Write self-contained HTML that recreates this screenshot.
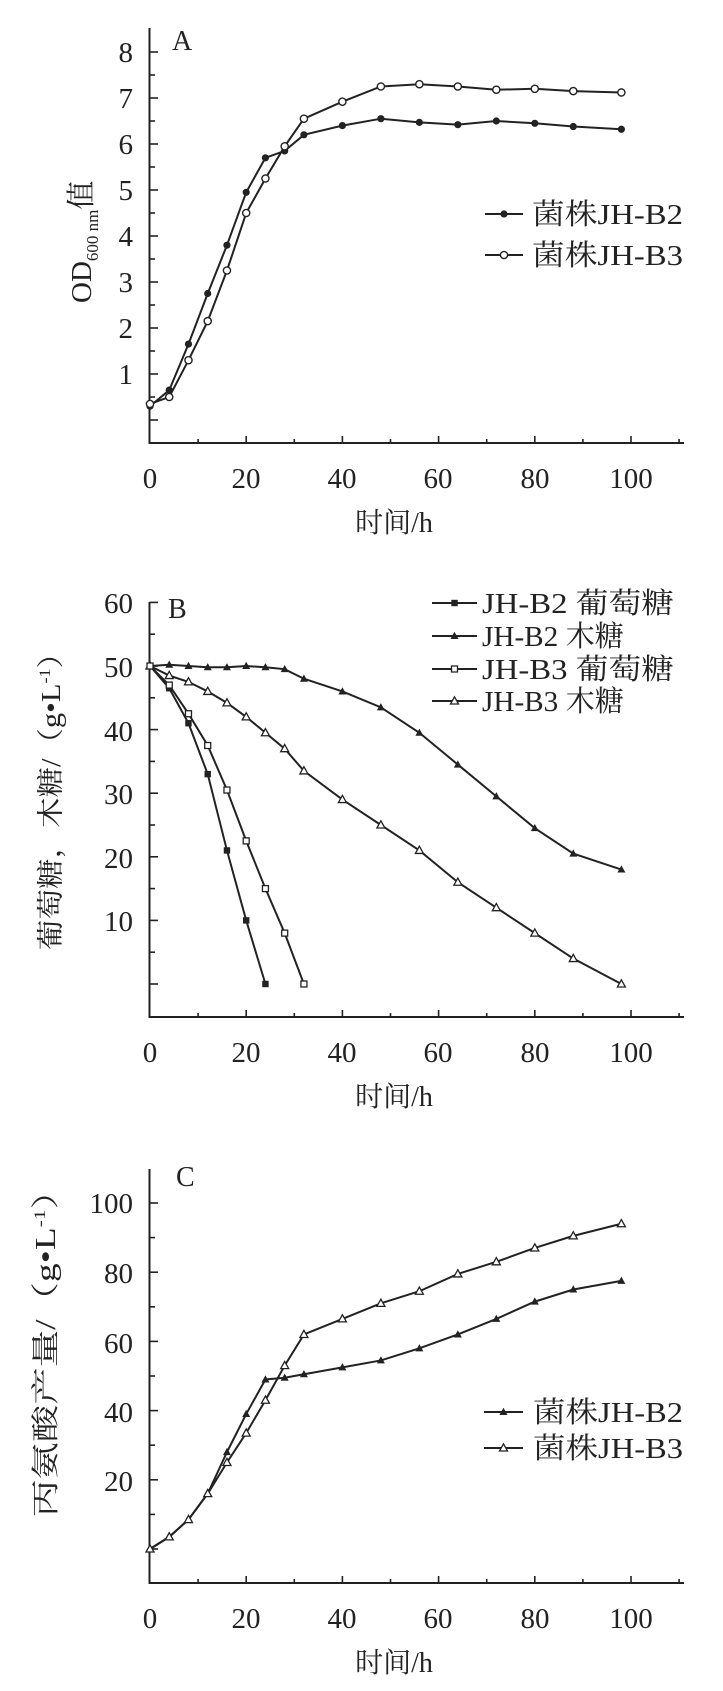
<!DOCTYPE html>
<html><head><meta charset="utf-8"><style>
html,body{margin:0;padding:0;background:#fff}
svg{display:block}
text{font-family:"Liberation Serif","Noto Serif CJK SC",serif;fill:#222}
</style></head><body>
<svg id="s" width="723" height="1691" viewBox="0 0 723 1691" xmlns="http://www.w3.org/2000/svg">
<g font-size="29" text-anchor="end">
<!-- A ticks -->
<text x="133" y="62">8</text><text x="133" y="108">7</text><text x="133" y="154">6</text><text x="133" y="200">5</text>
<text x="133" y="246">4</text><text x="133" y="292">3</text><text x="133" y="338">2</text><text x="133" y="384">1</text>
<!-- B ticks -->
<text x="133" y="613">60</text><text x="133" y="677">50</text><text x="133" y="741">40</text><text x="133" y="804">30</text>
<text x="133" y="868">20</text><text x="133" y="931">10</text>
<!-- C ticks -->
<text x="133" y="1213">100</text><text x="133" y="1283">80</text><text x="133" y="1353">60</text><text x="133" y="1422">40</text><text x="133" y="1491">20</text>
</g>
<g font-size="29" text-anchor="middle">
<text x="150" y="488">0</text><text x="246" y="488">20</text><text x="342" y="488">40</text><text x="438" y="488">60</text><text x="535" y="488">80</text><text x="631" y="488">100</text>
<text x="150" y="1062">0</text><text x="246" y="1062">20</text><text x="342" y="1062">40</text><text x="438" y="1062">60</text><text x="535" y="1062">80</text><text x="631" y="1062">100</text>
<text x="150" y="1628">0</text><text x="246" y="1628">20</text><text x="342" y="1628">40</text><text x="438" y="1628">60</text><text x="535" y="1628">80</text><text x="631" y="1628">100</text>
<text x="394" y="532" font-size="28">时间/h</text>
<text x="394" y="1106" font-size="28">时间/h</text>
<text x="394" y="1672" font-size="28">时间/h</text>
</g>
<text x="172" y="50" font-size="28">A</text>
<text x="168" y="618" font-size="28">B</text>
<text x="176" y="1186" font-size="28">C</text>
<!-- y labels -->
<text transform="translate(91,303) rotate(-90)" font-size="29">OD<tspan font-size="17" dy="7">600 nm</tspan><tspan dy="-7">值</tspan></text>
<text transform="translate(60,950) rotate(-90)" font-size="27" textLength="312" lengthAdjust="spacingAndGlyphs">葡萄糖，木糖/（g•L<tspan font-size="16" dy="-10">-1</tspan><tspan dy="10">）</tspan></text>
<text transform="translate(55,1517) rotate(-90)" font-size="28" textLength="345" lengthAdjust="spacingAndGlyphs">丙氨酸产量/（g•L<tspan font-size="16" dy="-10">-1</tspan><tspan dy="10">）</tspan></text>
<!-- legends -->
<g font-size="29">
<text x="532" y="224" textLength="151" lengthAdjust="spacingAndGlyphs">菌株JH-B2</text>
<text x="532" y="265" textLength="151" lengthAdjust="spacingAndGlyphs">菌株JH-B3</text>
<text x="482" y="613" textLength="192" lengthAdjust="spacingAndGlyphs">JH-B2 葡萄糖</text>
<text x="482" y="646" textLength="142" lengthAdjust="spacingAndGlyphs">JH-B2 木糖</text>
<text x="482" y="679" textLength="192" lengthAdjust="spacingAndGlyphs">JH-B3 葡萄糖</text>
<text x="482" y="711" textLength="142" lengthAdjust="spacingAndGlyphs">JH-B3 木糖</text>
<text x="533" y="1422" textLength="150" lengthAdjust="spacingAndGlyphs">菌株JH-B2</text>
<text x="533" y="1458" textLength="150" lengthAdjust="spacingAndGlyphs">菌株JH-B3</text>
</g>
<g id="g"></g>
</svg>
<script>
var g=document.getElementById('g'),NS='http://www.w3.org/2000/svg',out='';
function X(t){return 150+4.81*t;}
function axes(top,bot,y0,py,step,maj,vmax){
 out+='<path d="M149.5 '+top+'V'+bot+'H684" fill="none" stroke="#222" stroke-width="2"/>';
 for(var v=0;v<=vmax+1e-6;v+=step){var y=y0-py*v;var m=Math.abs(v/maj-Math.round(v/maj))<1e-6;
  out+='<line x1="149.5" x2="'+(m?158:155)+'" y1="'+y+'" y2="'+y+'" stroke="#222" stroke-width="1.6"/>';}
 for(var t=10;t<=110;t+=10){var m=t%20==0;out+='<line x1="'+X(t)+'" x2="'+X(t)+'" y1="'+bot+'" y2="'+(bot-(m?7:4))+'" stroke="#222" stroke-width="1.6"/>';}
}
function mk(x,y,type){var r=3.6;
 if(type=='fc')return '<circle cx="'+x+'" cy="'+y+'" r="'+r+'" fill="#222"/>';
 if(type=='oc')return '<circle cx="'+x+'" cy="'+y+'" r="'+r+'" fill="#fff" stroke="#222" stroke-width="1.4"/>';
 if(type=='fs')return '<rect x="'+(x-3.2)+'" y="'+(y-3.2)+'" width="6.4" height="6.4" fill="#222"/>';
 if(type=='os')return '<rect x="'+(x-3)+'" y="'+(y-3)+'" width="6" height="6" fill="#fff" stroke="#222" stroke-width="1.3"/>';
 var p=(x)+','+(y-4.2)+' '+(x-4)+','+(y+3)+' '+(x+4)+','+(y+3);
 if(type=='ft')return '<polygon points="'+p+'" fill="#222"/>';
 return '<polygon points="'+p+'" fill="#fff" stroke="#222" stroke-width="1.3"/>';
}
function series(ts,vs,y0,py,type){var d='';for(var i=0;i<ts.length;i++){d+=(i?'L':'M')+X(ts[i])+' '+(y0-py*vs[i]);}
 out+='<path d="'+d+'" fill="none" stroke="#222" stroke-width="2"/>';
 for(var i=0;i<ts.length;i++)out+=mk(X(ts[i]),y0-py*vs[i],type);}
function leg(x1,x2,y,type){out+='<line x1="'+x1+'" x2="'+x2+'" y1="'+y+'" y2="'+y+'" stroke="#222" stroke-width="2"/>'+mk((x1+x2)/2,y,type);}
var T=[0,4,8,12,16,20,24,28,32,40,48,56,64,72,80,88,98];
// A
axes(28,443,420,46,0.5,1,8);
series(T,[0.3,0.65,1.65,2.75,3.8,4.95,5.7,5.85,6.2,6.4,6.55,6.47,6.42,6.5,6.45,6.38,6.32],420,46,'fc');
series(T,[0.35,0.5,1.3,2.15,3.25,4.5,5.25,5.95,6.55,6.92,7.25,7.3,7.25,7.18,7.2,7.15,7.12],420,46,'oc');
leg(485,523,214,'fc');leg(485,523,255,'oc');
// B
axes(602,1017,984,6.36,5,10,60);
series(T,[50,50.2,50,49.8,49.8,50,49.8,49.5,48,46,43.5,39.5,34.5,29.5,24.5,20.5,18],984,6.36,'ft');
series(T,[50,48.5,47.5,46,44.2,42,39.5,37,33.5,29,25,21,16,12,8,4,0],984,6.36,'ot');
series([0,4,8,12,16,20,24],[50,46.5,41,33,21,10,0],984,6.36,'fs');
series([0,4,8,12,16,20,24,28,32],[50,47,42.5,37.5,30.5,22.5,15,8,0],984,6.36,'os');
leg(432,477,603,'fs');leg(432,477,636,'ft');leg(432,477,669,'os');leg(432,477,701,'ot');
// C
axes(1169,1583,1549,3.46,10,20,100);
series(T,[0,3.5,8.5,16,28,39,49,49.5,50.5,52.5,54.5,58,62,66.5,71.5,75,77.5],1549,3.46,'ft');
series(T,[0,3.5,8.5,16,25,33.5,43,53,62,66.5,71,74.5,79.5,83,87,90.5,94],1549,3.46,'ot');
leg(484,523,1412,'ft');leg(484,523,1448,'ot');
g.innerHTML=out;
</script>
</body></html>
